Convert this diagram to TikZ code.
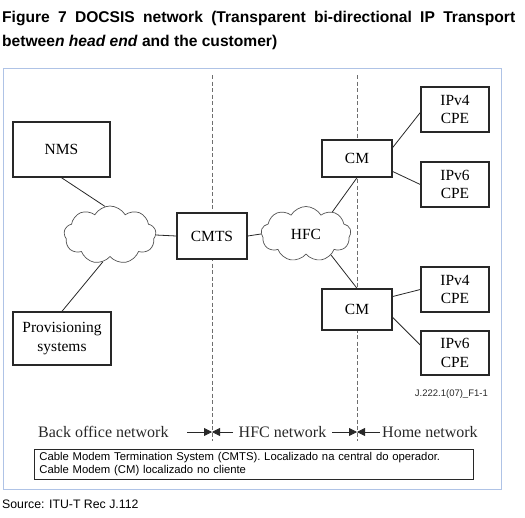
\documentclass[tikz,border=0pt]{standalone}
\usepackage{fontspec}
\setmainfont{Liberation Serif}
\newfontfamily\arial{Liberation Sans}
\usetikzlibrary{shapes.symbols,arrows.meta}
\definecolor{frameblue}{RGB}{175,195,230}
\definecolor{ink}{RGB}{40,40,40}
\definecolor{dashgray}{RGB}{110,110,110}
\begin{document}
\begin{tikzpicture}[x=1pt,y=-1pt,
  box/.style={draw=ink,line width=1.4pt,fill=white,align=center,inner sep=0pt,
    font=\fontsize{15.5}{18.5}\selectfont},
  puff/.style={cloud,cloud puffs=9,cloud puff arc=120,draw=ink!80,line width=0.7pt,
    fill=white,inner sep=0pt,font=\fontsize{15.5}{18}\selectfont},
  link/.style={draw=ink,line width=0.8pt},
  divider/.style={draw=dashgray,line width=0.9pt,dash pattern=on 4pt off 2.5pt},
  zone/.style={font=\fontsize{16}{18}\selectfont,inner sep=0pt,text=ink},
  tip/.style={draw=ink,line width=0.8pt,-{Triangle[length=8pt,width=8pt]}}]
\useasboundingbox (0,0) rectangle (525,517);
% title
\node[anchor=base west,inner sep=0pt,font=\arial\bfseries\fontsize{15.6}{18}\selectfont] (t1) at (2,22)
  {\makebox[513pt][s]{Figure 7 DOCSIS network (Transparent bi-directional IP Transport}};
\node[anchor=base west,inner sep=0pt,font=\arial\bfseries\fontsize{15.6}{18}\selectfont] (t2) at (2,46)
  {betwee\textit{n head end} and the customer)};
% frame
\draw[frameblue,line width=1pt] (3,68) rectangle (501,489);
% dividers
\coordinate (d1t) at (212,75); \coordinate (d1b) at (212,441);
\coordinate (d2t) at (357,75); \coordinate (d2b) at (357,441);
\draw[divider] (d1t) -- (d1b);
\draw[divider] (d2t) -- (d2b);
% nodes
\node[box,minimum width=97pt,minimum height=55pt] (nms) at (61.5,149.5) {NMS};
\node[box,minimum width=98pt,minimum height=53pt] (prov) at (62,338.5) {Provisioning\\systems};
\node[puff,minimum width=92pt,minimum height=58pt] (c1) at (110,235) {};
\node[box,minimum width=70pt,minimum height=46pt] (cmts) at (212,236) {CMTS};
\node[puff,minimum width=90pt,minimum height=55pt] (hfc) at (306,234) {HFC};
\node[box,minimum width=70pt,minimum height=37pt] (cm1) at (357,158.5) {CM};
\node[box,minimum width=70pt,minimum height=41pt] (cm2) at (357,309.5) {CM};
\node[box,minimum width=68pt,minimum height=45pt] (v4a) at (455,109.5) {IPv4\\CPE};
\node[box,minimum width=68pt,minimum height=45pt] (v6a) at (455,184.5) {IPv6\\CPE};
\node[box,minimum width=68pt,minimum height=45pt] (v4b) at (455,289.5) {IPv4\\CPE};
\node[box,minimum width=68pt,minimum height=44pt] (v6b) at (455,353) {IPv6\\CPE};
% links
\draw[link] (nms.south) -- (c1.100);
\draw[link] (c1.255) -- (prov.north);
\draw[link] (c1.east) -- (cmts.west);
\draw[link] (cmts.east) -- (hfc.west);
\draw[link] (hfc.40) -- (cm1.south);
\draw[link] (hfc.-40) -- (cm2.north);
\draw[link] ([yshift=11pt]cm1.east) -- ([yshift=-3pt]v4a.west);
\draw[link] ([yshift=-13pt]cm1.east) -- (v6a.west);
\draw[link] ([yshift=13pt]cm2.east) -- (v4b.west);
\draw[link] ([yshift=-8pt]cm2.east) -- ([yshift=8pt]v6b.west);
% figure id
\node[anchor=base east,inner sep=0pt,font=\arial\fontsize{9.5}{11}\selectfont,text=ink] (fid) at (488,396) {J.222.1(07)\_F1-1};
% zone labels
\node[zone,anchor=base west] (back) at (38,437) {Back office network};
\node[zone,anchor=base] (hfcn) at (282.5,437) {HFC network};
\node[zone,anchor=base west] (home) at (382,437) {Home network};
\coordinate (a1s) at (187,432); \coordinate (a1e) at (212,432);
\coordinate (a2s) at (233,432); \coordinate (a2e) at (212,432);
\coordinate (a3s) at (332,432); \coordinate (a3e) at (357,432);
\coordinate (a4s) at (380,432); \coordinate (a4e) at (357,432);
\draw[tip] (a1s) -- (a1e);
\draw[tip] (a2s) -- (a2e);
\draw[tip] (a3s) -- (a3e);
\draw[tip] (a4s) -- (a4e);
% caption box
\node[draw=ink,line width=0.9pt,anchor=north west,minimum width=439pt,minimum height=30pt,
  inner sep=0pt,text width=435pt,align=left,font=\arial\fontsize{11.3}{13}\selectfont] (cap) at (34,449)
  {\hspace*{3pt}Cable Modem Termination System (CMTS). Localizado na central do operador.\\
   \hspace*{3pt}Cable Modem (CM) localizado no cliente};
% source
\node[anchor=base west,inner sep=0pt,font=\arial\fontsize{12.3}{14}\selectfont] (src) at (2,508) {Source: ITU-T Rec J.112};
\end{tikzpicture}
\end{document}
